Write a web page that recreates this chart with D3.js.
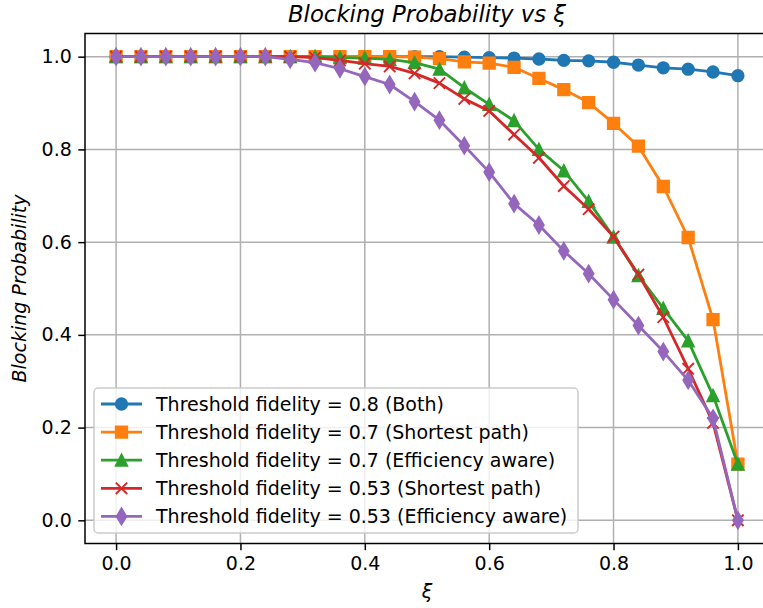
<!DOCTYPE html>
<meta charset="utf-8">
<script src="https://d3js.org/d3.v7.min.js"></script>
<style>
  body { margin: 0; background: #fff; }
  text { font-family: 'DejaVu Sans', sans-serif; fill: #000; }
</style>
<div id="chart"></div>
<script>
// x values (xi)
const xi = [0, 0.04, 0.08, 0.12, 0.16, 0.2, 0.24, 0.28, 0.32, 0.36, 0.4, 0.44, 0.48,
            0.52, 0.56, 0.6, 0.64, 0.68, 0.72, 0.76, 0.8, 0.84, 0.88, 0.92, 0.96, 1.0];

const both08 = [1, 1, 1, 1, 1, 1, 1, 1, 1, 1, 1, 1, 1, 1,
                0.999, 0.998, 0.997, 0.995, 0.992, 0.991, 0.988, 0.982, 0.976, 0.973, 0.967, 0.959];
const sp07 = [1, 1, 1, 1, 1, 1, 1, 1, 1, 1, 1, 1,
              0.999, 0.996, 0.989, 0.986, 0.977, 0.953, 0.929, 0.901, 0.856, 0.807, 0.720, 0.610, 0.433, 0.121];
const ea07 = [1, 1, 1, 1, 1, 1, 1, 1, 1,
              0.998, 0.997, 0.994, 0.987, 0.973, 0.933, 0.897, 0.862, 0.800, 0.754, 0.688, 0.611, 0.528, 0.457, 0.387, 0.269, 0.121];
const sp053 = [1, 1, 1, 1, 1, 1, 1, 1,
               0.998, 0.992, 0.985, 0.979, 0.964, 0.943, 0.909, 0.883, 0.832, 0.782, 0.721, 0.671, 0.612, 0.530, 0.438, 0.327, 0.210, 0.0];
const ea053 = [1, 1, 1, 1, 1, 1, 1,
               0.994, 0.987, 0.974, 0.957, 0.940, 0.903, 0.863, 0.808, 0.751, 0.683, 0.637, 0.581, 0.532, 0.476, 0.420, 0.364, 0.302, 0.220, 0.0];

const seriesNames = [
  "Threshold fidelity = 0.8 (Both)",
  "Threshold fidelity = 0.7 (Shortest path)",
  "Threshold fidelity = 0.7 (Efficiency aware)",
  "Threshold fidelity = 0.53 (Shortest path)",
  "Threshold fidelity = 0.53 (Efficiency aware)"
];
const xTicks = [0, 0.2, 0.4, 0.6, 0.8, 1.0];
const yTicks = [0, 0.2, 0.4, 0.6, 0.8, 1.0];

const colors = ["#1f77b4", "#ff7f0e", "#2ca02c", "#d62728", "#9467bd"];
const markers = ["circle", "square", "triangle", "x", "thin_diamond"];

const series = [both08, sp07, ea07, sp053, ea053].map((v, i) => ({
  name: seriesNames[i], values: v, color: colors[i], marker: markers[i]
}));

const W = 763, H = 608;
const L = 85, R = 769, T = 33.5, B = 543.5;
const fs = 19;

const svg = d3.select("#chart").append("svg")
  .attr("width", W).attr("height", H);

const x = d3.scaleLinear().domain([-0.05, 1.05]).range([L, R]);
const y = d3.scaleLinear().domain([-0.05, 1.05]).range([B, T]);

// grid
svg.append("g").selectAll("line").data(xTicks).enter().append("line")
  .attr("x1", d => x(d)).attr("x2", d => x(d)).attr("y1", T).attr("y2", B)
  .attr("stroke", "#b0b0b0").attr("stroke-width", 1.5);
svg.append("g").selectAll("line").data(yTicks).enter().append("line")
  .attr("y1", d => y(d)).attr("y2", d => y(d)).attr("x1", L).attr("x2", R)
  .attr("stroke", "#b0b0b0").attr("stroke-width", 1.5);

// marker path generator (size in px)
const ms = 11.4;
function markerPath(type) {
  const h = ms / 2;
  if (type === "circle") return d3.symbol(d3.symbolCircle, Math.PI * h * h)();
  if (type === "square") return `M${-h},${-h}H${h}V${h}H${-h}Z`;
  if (type === "triangle") return `M0,${-h}L${h},${h}L${-h},${h}Z`;
  if (type === "x") return `M${-h},${-h}L${h},${h}M${-h},${h}L${h},${-h}`;
  if (type === "thin_diamond") {
    const t = ms * 0.7071, w = t * 0.6;
    return `M0,${-t}L${w},0L0,${t}L${-w},0Z`;
  }
}

function drawMarker(g, type, color) {
  g.append("path")
    .attr("d", markerPath(type))
    .attr("fill", type === "x" ? "none" : color)
    .attr("stroke", color)
    .attr("stroke-width", 1.9)
    .attr("stroke-linejoin", "miter");
}

const line = d3.line().x((d, i) => x(xi[i])).y(d => y(d));

const plot = svg.append("g");
series.forEach(s => {
  plot.append("path")
    .attr("d", line(s.values))
    .attr("fill", "none")
    .attr("stroke", s.color)
    .attr("stroke-width", 2.8)
    .attr("stroke-linejoin", "round")
    .attr("stroke-linecap", "square");
  s.values.forEach((v, i) => {
    const g = plot.append("g").attr("transform", `translate(${x(xi[i])},${y(v)})`);
    drawMarker(g, s.marker, s.color);
  });
});

// axes
const xAxis = svg.append("g").attr("transform", `translate(0,${B})`)
  .call(d3.axisBottom(x).tickValues(xTicks).tickFormat(d3.format(".1f"))
    .tickSize(6.7).tickPadding(6.5).tickSizeOuter(0));
const yAxis = svg.append("g").attr("transform", `translate(${L},0)`)
  .call(d3.axisLeft(y).tickValues(yTicks).tickFormat(d3.format(".1f"))
    .tickSize(6.7).tickPadding(6.5).tickSizeOuter(0));
[xAxis, yAxis].forEach(a => {
  a.select(".domain").remove();
  a.selectAll(".tick line").attr("stroke", "#000").attr("stroke-width", 1.5);
  a.selectAll(".tick text").attr("font-size", fs).attr("font-family", "DejaVu Sans");
});

// spines
svg.append("rect").attr("x", L).attr("y", T).attr("width", R - L).attr("height", B - T)
  .attr("fill", "none").attr("stroke", "#000").attr("stroke-width", 1.5);

// title and labels
svg.append("text").attr("x", (L + R) / 2).attr("y", 22)
  .attr("text-anchor", "middle").attr("font-size", 22.8).attr("font-style", "italic")
  .text("Blocking Probability vs ξ");
svg.append("text").attr("x", (L + R) / 2).attr("y", 598)
  .attr("text-anchor", "middle").attr("font-size", fs).attr("font-style", "italic")
  .text("ξ");
svg.append("text")
  .attr("transform", `translate(26,${(T + B) / 2}) rotate(-90)`)
  .attr("text-anchor", "middle").attr("font-size", fs).attr("font-style", "italic")
  .text("Blocking Probability");

// legend
const lg = svg.append("g");
lg.append("rect").attr("x", 94).attr("y", 388).attr("width", 484).attr("height", 145)
  .attr("rx", 4).attr("fill", "#fff").attr("fill-opacity", 0.8)
  .attr("stroke", "#cccccc").attr("stroke-width", 1.5);
series.forEach((s, i) => {
  const cy = 404 + i * 28.1;
  lg.append("line").attr("x1", 101).attr("x2", 142).attr("y1", cy).attr("y2", cy)
    .attr("stroke", s.color).attr("stroke-width", 2.8);
  const g = lg.append("g").attr("transform", `translate(121.5,${cy})`);
  drawMarker(g, s.marker, s.color);
  lg.append("text").attr("x", 156).attr("y", cy).attr("dy", "0.35em")
    .attr("font-size", fs).text(s.name);
});
</script>
